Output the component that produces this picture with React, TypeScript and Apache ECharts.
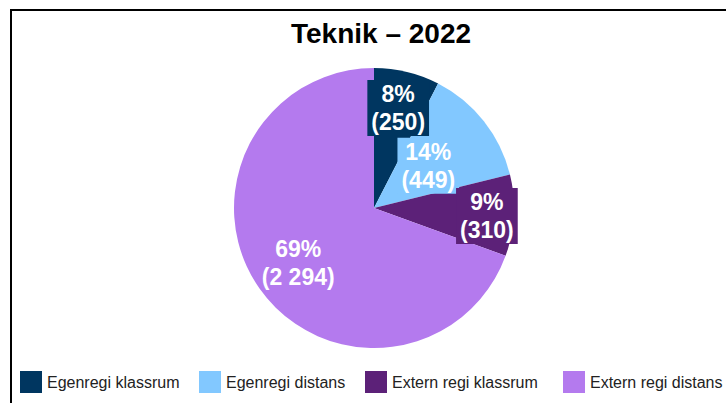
import React, { useEffect, useRef } from "react";
import * as echarts from "echarts";

const titleText = "Teknik – 2022";
const categories = ["Egenregi klassrum", "Egenregi distans", "Extern regi klassrum", "Extern regi distans"];
const values = [250, 449, 310, 2294];
const colors = ["#003660", "#82C8FF", "#5C2178", "#B47AEE"];

// label offsets from default inside position (styling)
const labelDx = [7, -3, 40, -16];
const labelDy = [-29, 3, 4, 13];
const legendLeft = [20, 199, 365, 563];

function fmtThousands(n: number): string {
  return String(n).replace(/\B(?=(\d{3})+(?!\d))/g, " ");
}

export default function App() {
  const ref = useRef<HTMLDivElement>(null);
  useEffect(() => {
    document.body.style.margin = "0";
    if (!ref.current) return;
    const chart = echarts.init(ref.current, undefined, { renderer: "svg" });
    const total = values.reduce((a, b) => a + b, 0);
    const font = "'Liberation Sans', Arial, sans-serif";
    chart.setOption({
      animation: false,
      backgroundColor: "#ffffff",
      title: {
        text: titleText,
        left: 376,
        textAlign: "center",
        top: 14,
        textStyle: { fontFamily: font, fontWeight: "bold", fontSize: 28, color: "#000" },
      },
      legend: categories.map((c, i) => ({
        data: [c],
        left: legendLeft[i],
        top: 371,
        orient: "horizontal",
        icon: "rect",
        itemWidth: 22,
        itemHeight: 22,
        itemGap: 5,
        padding: 0,
        textStyle: { fontFamily: font, fontSize: 16, color: "#222" },
      })),
      graphic: [
        {
          type: "rect",
          shape: { x: 11, y: 10, width: 800, height: 500 },
          style: { fill: "none", stroke: "#000", lineWidth: 2 },
          silent: true,
        },
      ],
      series: [
        {
          type: "pie",
          center: [374, 208],
          radius: [0, 140],
          startAngle: 90,
          clockwise: true,
          avoidLabelOverlap: false,
          labelLine: { show: false },
          label: {
            show: true,
            position: "inside",
            color: "#fff",
            fontFamily: font,
            fontWeight: "bold",
            fontSize: 23,
            lineHeight: 28,
            padding: [0, 4],
            formatter: (p: any) =>
              Math.round((p.value / total) * 100) + "%\n(" + fmtThousands(p.value) + ")",
          },
          labelLayout: (p: any) => ({ dx: labelDx[p.dataIndex], dy: labelDy[p.dataIndex] }),
          data: categories.map((c, i) => ({
            name: c,
            value: values[i],
            itemStyle: { color: colors[i] },
            label: i < 3 ? { backgroundColor: colors[i] } : {},
          })),
        },
      ],
    });
    return () => chart.dispose();
  }, []);
  return <div ref={ref} style={{ width: 726, height: 403 }} />;
}
